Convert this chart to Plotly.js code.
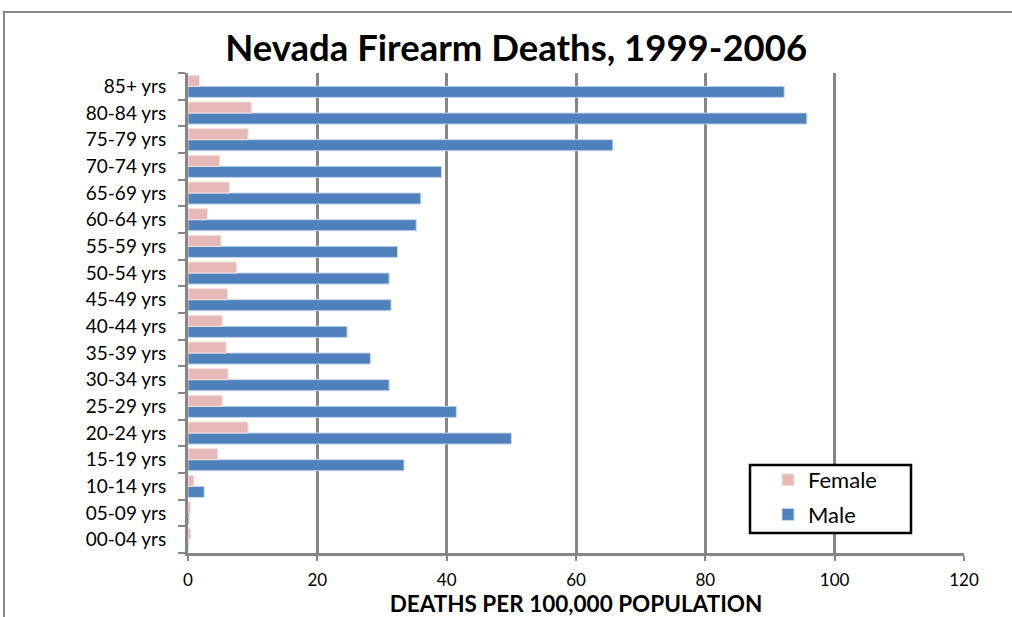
<!DOCTYPE html>
<html>
<head>
<meta charset="utf-8">
<script src="https://cdn.plot.ly/plotly-3.0.1.min.js"></script>
<style>
  html, body { margin: 0; padding: 0; background: #fff; }
  #chart { width: 1012px; height: 617px; }
</style>
</head>
<body>
<div id="chart"></div>
<script>
// Age groups, listed bottom to top
const ageGroups = ["00-04 yrs", "05-09 yrs", "10-14 yrs", "15-19 yrs", "20-24 yrs", "25-29 yrs",
  "30-34 yrs", "35-39 yrs", "40-44 yrs", "45-49 yrs", "50-54 yrs", "55-59 yrs",
  "60-64 yrs", "65-69 yrs", "70-74 yrs", "75-79 yrs", "80-84 yrs", "85+ yrs"];

// Firearm deaths per 100,000 population
const maleRates = [0, 0.15, 2.5, 33.4, 50.0, 41.5, 31.1, 28.2, 24.6, 31.4, 31.1, 32.4,
  35.3, 36.0, 39.2, 65.7, 95.7, 92.2];
const femaleRates = [0.4, 0.4, 0.9, 4.6, 9.3, 5.3, 6.2, 5.9, 5.3, 6.1, 7.5, 5.1,
  3.0, 6.4, 4.9, 9.3, 9.8, 1.8];

const xTicks = [0, 20, 40, 60, 80, 100, 120];

const FONT = "Lato, 'Open Sans', sans-serif";
const GRID = "#868686";

// plot area spans 188..964 px horizontally and 73..553 px vertically
const px = v => (v - 188) / 776;
const py = v => (553 - v) / 480;

const traces = [
  {
    type: "bar", orientation: "h", name: "Male", legendgroup: "m", legendrank: 2,
    y: ageGroups, x: maleRates,
    marker: { color: "#4F81BD", line: { color: "#c5d6ec", width: 1 } }
  },
  {
    type: "bar", orientation: "h", name: "Female", legendgroup: "f", legendrank: 1,
    y: ageGroups, x: femaleRates,
    marker: { color: "#E6B9B8", line: { color: "#f5e3e3", width: 1 } }
  }
];

const layout = {
  width: 1012, height: 617,
  margin: { l: 188, r: 48, t: 73, b: 64 },
  paper_bgcolor: "#fff", plot_bgcolor: "#fff",
  font: { family: FONT, color: "#000", size: 18 },
  title: {
    text: "<b>Nevada Firearm Deaths, 1999-2006</b>",
    font: { family: FONT, size: 36.5, color: "#000" },
    x: 0.51, xanchor: "center", y: 0.922, yanchor: "middle"
  },
  barmode: "group", bargap: 0.17, bargroupgap: 0,
  showlegend: true,
  legend: {
    traceorder: "grouped", tracegroupgap: 3,
    x: px(768), y: py(459), xanchor: "left", yanchor: "top",
    bgcolor: "rgba(0,0,0,0)", borderwidth: 0,
    font: { family: FONT, size: 22, color: "#000" },
    itemwidth: 30
  },
  xaxis: {
    range: [0, 120], tickvals: xTicks, ticktext: xTicks.map(String),
    showgrid: true, gridcolor: GRID, gridwidth: 3,
    zeroline: false, showline: true, linecolor: GRID, linewidth: 3,
    ticks: "outside", ticklen: 5, tickwidth: 2, tickcolor: GRID,
    tickfont: { family: FONT, size: 17, color: "#000" },
    ticklabelstandoff: 5,
    title: {
      text: "<b>DEATHS PER 100,000 POPULATION</b>",
      font: { family: FONT, size: 22.5, color: "#000" }, standoff: 5
    },
    fixedrange: true
  },
  yaxis: {
    type: "category", categoryorder: "array", categoryarray: ageGroups,
    showgrid: false, zeroline: false,
    showline: true, linecolor: GRID, linewidth: 3,
    ticks: "outside", tickson: "boundaries", ticklen: 7, tickwidth: 2, tickcolor: GRID,
    tickfont: { family: FONT, size: 19, color: "#000" },
    ticklabelstandoff: 15,
    fixedrange: true
  },
  shapes: [
    // chart frame (left and top edges visible)
    {
      type: "rect", xref: "paper", yref: "paper",
      x0: px(4), x1: px(1020), y0: py(625), y1: py(12),
      line: { color: GRID, width: 2 }, fillcolor: "rgba(0,0,0,0)", layer: "below"
    },
    // legend box
    {
      type: "rect", xref: "paper", yref: "paper",
      x0: px(750), x1: px(911), y0: py(533), y1: py(465),
      line: { color: "#000", width: 2.5 }, fillcolor: "#fff", layer: "above"
    }
  ]
};

Plotly.newPlot("chart", traces, layout, { displayModeBar: false, staticPlot: true });
</script>
</body>
</html>
